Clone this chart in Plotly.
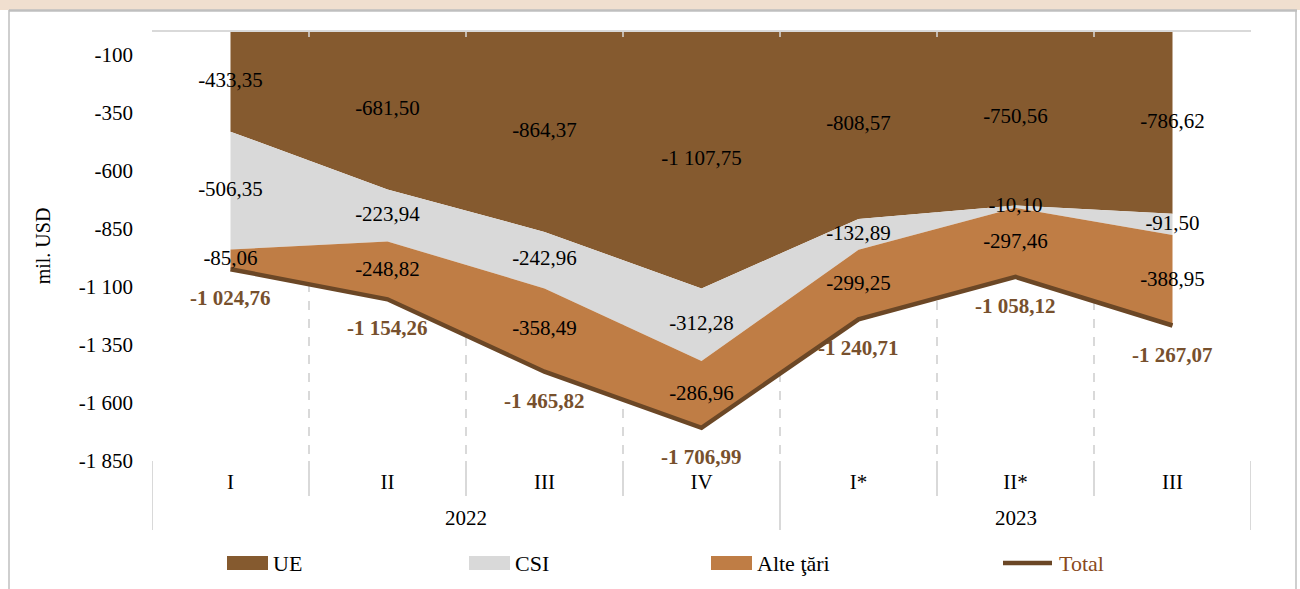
import plotly.graph_objects as go

# --- date (mil. USD) ---
YEARS = ["2022", "2022", "2022", "2022", "2023", "2023", "2023"]
# ultimul "III" primeşte un spaţiu de lăţime zero ca să rămână categorie separată de "III" din 2022
QUARTERS = ["I", "II", "III", "IV", "I*", "II*", "III\u200b"]
UE = [-433.35, -681.50, -864.37, -1107.75, -808.57, -750.56, -786.62]
CSI = [-506.35, -223.94, -242.96, -312.28, -132.89, -10.10, -91.50]
ALTE = [-85.06, -248.82, -358.49, -286.96, -299.25, -297.46, -388.95]
TOTAL = [-1024.76, -1154.26, -1465.82, -1706.99, -1240.71, -1058.12, -1267.07]
Y_TICKS = [-100, -350, -600, -850, -1100, -1350, -1600, -1850]

C_UE = "#855a2f"
C_CSI = "#d9d9d9"
C_ALTE = "#bf7d45"
C_TOTAL = "#6b4726"
C_TOTAL_TXT = "#77502d"
GRID = "#d9d9d9"
FONT = "Liberation Serif"
FS = 21

W, H = 1300, 589
L, R, T, B = 152, 49, 31, 128
PW, PH = W - L - R, H - T - B


def fmt(v, dec=2):
    s = f"{v:,.{dec}f}"
    return s.replace(",", " ").replace(".", ",")


def px(xp):  # pixel -> paper x
    return (xp - L) / PW


def py(yp):  # pixel -> paper y
    return 1 - (yp - T) / PH


fig = go.Figure()
for name, vals, col in [("UE", UE, C_UE), ("CSI", CSI, C_CSI), ("Alte ţări", ALTE, C_ALTE)]:
    fig.add_trace(go.Scatter(
        x=QUARTERS, y=vals, name=name, stackgroup="s", mode="none",
        fillcolor=col, line=dict(width=0), showlegend=False,
    ))
fig.add_trace(go.Scatter(
    x=QUARTERS, y=TOTAL, name="Total", mode="lines",
    line=dict(color=C_TOTAL, width=4.5), showlegend=False,
))

# etichete pe mijlocul fiecărui segment
top = [0.0] * len(UE)
for vals in (UE, CSI, ALTE):
    mids = [t + v / 2 for t, v in zip(top, vals)]
    fig.add_trace(go.Scatter(
        x=QUARTERS, y=mids, mode="text", text=[fmt(v) for v in vals],
        textfont=dict(family=FONT, size=FS, color="#000000"),
        showlegend=False, hoverinfo="skip",
    ))
    top = [t + v for t, v in zip(top, vals)]

for i, v in enumerate(TOTAL):
    fig.add_annotation(
        x=i, y=v, xref="x", yref="y", text=f"<b>{fmt(v)}</b>", showarrow=False,
        yshift=-29, font=dict(family=FONT, size=FS, color=C_TOTAL_TXT),
    )

shapes = []
# banda de titlu + chenar
shapes.append(dict(type="rect", xref="paper", yref="paper", x0=px(0), x1=px(W), y0=py(0), y1=py(10),
                   fillcolor="#f0dfcf", line=dict(width=0), layer="below"))
shapes.append(dict(type="line", xref="paper", yref="paper", x0=px(9), x1=px(1297), y0=py(10.5), y1=py(10.5),
                   line=dict(color="#bfbfbf", width=2.5)))
for xp in (9, 1296):
    shapes.append(dict(type="line", xref="paper", yref="paper", x0=px(xp), x1=px(xp), y0=py(10), y1=py(H + 5),
                       line=dict(color="#bfbfbf", width=1.5)))
# axa categoriilor (sus, la 0) cu liniuţe la limitele trimestrelor
shapes.append(dict(type="line", xref="paper", yref="paper", x0=0, x1=1, y0=1, y1=1,
                   line=dict(color=GRID, width=2), layer="above"))
n = len(QUARTERS)
for i in range(n - 1):
    b = i + 0.5
    shapes.append(dict(type="line", xref="x", yref="paper", x0=b, x1=b, y0=1, y1=py(T + 6),
                       line=dict(color=GRID, width=1.5), layer="above"))

# separatoare sub axă: scurte între trimestre, lungi între ani
group_edges = [-0.5, n - 0.5] + [i - 0.5 for i in range(1, n) if YEARS[i] != YEARS[i - 1]]
for i in range(n + 1):
    b = i - 0.5
    y_end = 530 if b in group_edges else 496
    shapes.append(dict(type="line", xref="x", yref="paper", x0=b, x1=b, y0=0, y1=py(y_end),
                       line=dict(color=GRID, width=2)))

# etichetele anilor
for year in dict.fromkeys(YEARS):
    idx = [i for i, yv in enumerate(YEARS) if yv == year]
    fig.add_annotation(x=sum(idx) / len(idx), y=py(518), xref="x", yref="paper", text=year,
                       showarrow=False, yanchor="middle", font=dict(family=FONT, size=FS))

# legendă
leg_y = 563
for x0, col in [(227, C_UE), (469, C_CSI), (711, C_ALTE)]:
    shapes.append(dict(type="rect", xref="paper", yref="paper", x0=px(x0), x1=px(x0 + 41),
                       y0=py(leg_y - 7), y1=py(leg_y + 7), fillcolor=col, line=dict(width=0)))
shapes.append(dict(type="line", xref="paper", yref="paper", x0=px(1003), x1=px(1052),
                   y0=py(leg_y), y1=py(leg_y), line=dict(color=C_TOTAL, width=4.5)))
for xt, txt, col in [(271, "UE", "#000000"), (513, "CSI", "#000000"),
                     (755, "Alte ţări", "#000000"), (1057, "Total", "#8a4a1c")]:
    fig.add_annotation(x=px(xt), y=py(leg_y), xref="paper", yref="paper", text=txt,
                       xanchor="left", yanchor="middle", showarrow=False,
                       font=dict(family=FONT, size=22, color=col))

fig.update_layout(
    width=W, height=H, margin=dict(l=L, r=R, t=T, b=B),
    paper_bgcolor="white", plot_bgcolor="white",
    font=dict(family=FONT, size=FS, color="#000000"),
    shapes=shapes, showlegend=False,
)
fig.update_xaxes(
    type="category", range=[-0.5, n - 0.5], tickson="boundaries",
    showgrid=True, gridcolor=GRID, griddash="dash", gridwidth=2,
    ticks="", showline=False, zeroline=False, ticklabelstandoff=6,
    tickfont=dict(family=FONT, size=FS),
)
fig.update_yaxes(
    range=[-1850, 0], tickvals=Y_TICKS, ticktext=[fmt(v, 0) for v in Y_TICKS],
    showgrid=False, zeroline=False, showline=False, ticks="",
    ticklabelstandoff=18, tickfont=dict(family=FONT, size=FS),
    title=dict(text="mil. USD", font=dict(family=FONT, size=20), standoff=22),
)

fig.write_html("out.html", config={"displayModeBar": False},
               post_script="document.body.style.margin = '0';")
